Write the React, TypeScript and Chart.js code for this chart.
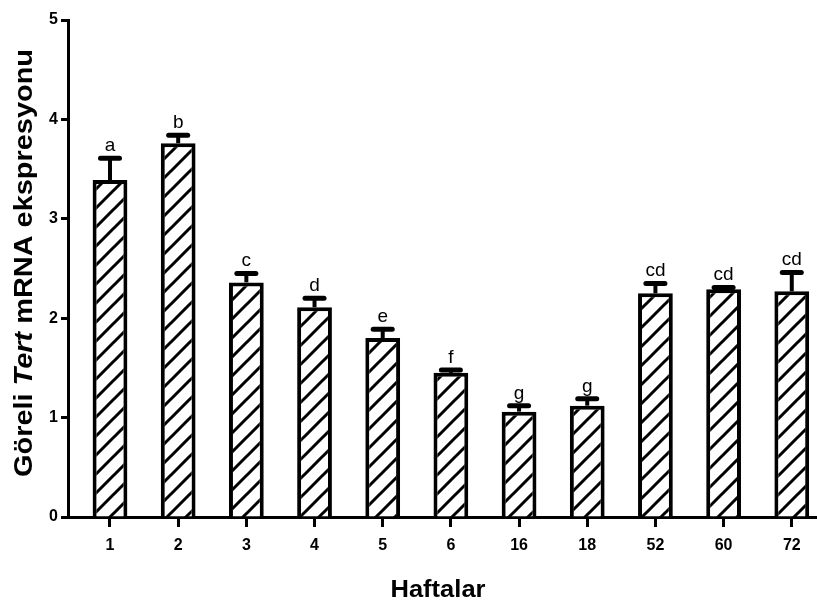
import React, { useEffect, useRef } from 'react';
import { Chart, registerables } from 'chart.js';

Chart.register(...registerables);

const weeks = ['1', '2', '3', '4', '5', '6', '16', '18', '52', '60', '72'];
const expression = [3.39, 3.76, 2.36, 2.11, 1.8, 1.45, 1.06, 1.12, 2.25, 2.29, 2.27];
const errors = [0.22, 0.08, 0.09, 0.09, 0.09, 0.03, 0.06, 0.07, 0.1, 0.02, 0.19];
const letters = ['a', 'b', 'c', 'd', 'e', 'f', 'g', 'g', 'cd', 'cd', 'cd'];
const yTicks = [0, 1, 2, 3, 4, 5];
const xTitle = 'Haftalar';
const yTitleParts = [
  { text: 'Göreli ', italic: false },
  { text: 'Tert', italic: true },
  { text: ' mRNA ekspresyonu', italic: false },
];

const FONT = '"Liberation Sans", Arial, sans-serif';

function makePattern(): CanvasPattern | string {
  const s = 19;
  const c = document.createElement('canvas');
  c.width = s;
  c.height = s;
  const g = c.getContext('2d');
  if (!g) return '#fff';
  g.fillStyle = '#fff';
  g.fillRect(0, 0, s, s);
  g.strokeStyle = '#000';
  g.lineWidth = 3;
  g.lineCap = 'square';
  g.beginPath();
  g.moveTo(-s, 2 * s);
  g.lineTo(2 * s, -s);
  g.moveTo(-s, s);
  g.lineTo(s, -s);
  g.moveTo(0, 2 * s);
  g.lineTo(2 * s, 0);
  g.stroke();
  const p = g.createPattern(c, 'repeat');
  return p || '#fff';
}

const annotationsPlugin = {
  id: 'errAndLabels',
  afterDatasetsDraw(chart: any) {
    const ctx = chart.ctx;
    const meta = chart.getDatasetMeta(0);
    const yScale = chart.scales.y;
    ctx.save();
    meta.data.forEach((bar: any, i: number) => {
      const x = bar.x;
      const yTop = yScale.getPixelForValue(expression[i]);
      const yCap = yScale.getPixelForValue(expression[i] + errors[i]);
      ctx.strokeStyle = '#000';
      ctx.lineWidth = 4;
      ctx.lineCap = 'butt';
      ctx.beginPath();
      ctx.moveTo(x, yTop);
      ctx.lineTo(x, yCap);
      ctx.stroke();
      ctx.lineWidth = 5;
      ctx.lineCap = 'round';
      ctx.beginPath();
      ctx.moveTo(x - 9.5, yCap);
      ctx.lineTo(x + 9.5, yCap);
      ctx.stroke();
      ctx.fillStyle = '#000';
      ctx.font = `19px ${FONT}`;
      ctx.textAlign = 'center';
      ctx.textBaseline = 'alphabetic';
      ctx.fillText(letters[i], x, yCap - 7);
    });
    ctx.restore();
  },
  afterDraw(chart: any) {
    const ctx = chart.ctx;
    ctx.save();
    // x title
    ctx.fillStyle = '#000';
    ctx.font = `bold 23px ${FONT}`;
    ctx.textAlign = 'left';
    ctx.textBaseline = 'middle';
    const xw = ctx.measureText(xTitle).width;
    ctx.save();
    ctx.translate(438 - 95 / 2, 591);
    ctx.scale(95 / xw, 1);
    ctx.fillText(xTitle, 0, 0);
    ctx.restore();
    // y title
    const widths = yTitleParts.map((p) => {
      ctx.font = `${p.italic ? 'italic ' : ''}bold 25px ${FONT}`;
      return ctx.measureText(p.text).width;
    });
    const total = widths.reduce((a, b) => a + b, 0);
    const target = 428;
    ctx.translate(25, 263);
    ctx.rotate(-Math.PI / 2);
    ctx.scale(target / total, 1);
    ctx.textAlign = 'left';
    ctx.textBaseline = 'middle';
    let cx = -total / 2;
    yTitleParts.forEach((p, i) => {
      ctx.font = `${p.italic ? 'italic ' : ''}bold 25px ${FONT}`;
      ctx.fillText(p.text, cx, 0);
      cx += widths[i];
    });
    ctx.restore();
  },
};

export default function App() {
  const ref = useRef<HTMLCanvasElement | null>(null);
  useEffect(() => {
    if (!ref.current) return;
    const pattern = makePattern();
    const chart = new Chart(ref.current, {
      type: 'bar',
      data: {
        datasets: [
          {
            data: expression.map((v, i) => ({ x: i, y: v })),
            backgroundColor: pattern as any,
            borderColor: '#000',
            borderWidth: 4,
            borderSkipped: 'start',
            categoryPercentage: 1,
            barPercentage: 0.51,
          } as any,
        ],
      },
      options: {
        animation: false,
        responsive: false,
        devicePixelRatio: 1,
        layout: { padding: { top: 20, left: 0, right: 0, bottom: 0 } },
        plugins: { legend: { display: false }, tooltip: { enabled: false } },
        scales: {
          x: {
            type: 'linear',
            min: -0.616,
            max: 10.37,
            offset: false,
            afterBuildTicks: (s: any) => {
              s.ticks = weeks.map((_, i) => ({ value: i }));
            },
            afterFit: (s: any) => {
              s.height = 88;
            },
            ticks: {
              callback: (v: any) => weeks[Math.round(Number(v))],
              autoSkip: false,
              maxRotation: 0,
              color: '#000',
              padding: 9,
              font: { family: FONT, size: 16, weight: 'bold' },
            },
            grid: {
              offset: false,
              drawOnChartArea: false,
              drawTicks: true,
              tickLength: 10,
              tickWidth: 3,
              tickColor: '#000',
            },
            border: { display: true, color: '#000', width: 3 },
          } as any,
          y: {
            min: 0,
            max: 5,
            afterBuildTicks: (s: any) => {
              s.ticks = yTicks.map((v) => ({ value: v }));
            },
            afterFit: (s: any) => {
              s.width = 68;
            },
            ticks: {
              color: '#000',
              padding: 3,
              font: { family: FONT, size: 16, weight: 'bold' },
            },
            grid: {
              drawOnChartArea: false,
              drawTicks: true,
              tickLength: 7,
              tickWidth: 3,
              tickColor: '#000',
            },
            border: { display: true, color: '#000', width: 3 },
          } as any,
        },
      },
      plugins: [annotationsPlugin],
    });
    return () => chart.destroy();
  }, []);
  return (
    <div style={{ position: 'absolute', left: 0, top: 0, width: 817, height: 605, background: '#fff' }}>
      <canvas ref={ref} width={817} height={605} />
    </div>
  );
}
